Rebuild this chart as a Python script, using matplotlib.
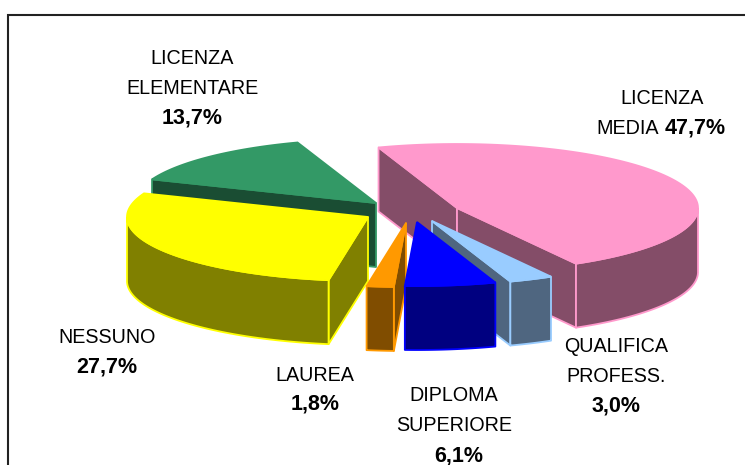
import numpy as np
import matplotlib
matplotlib.use("Agg")
import matplotlib.pyplot as plt
from matplotlib.patches import Polygon

categories = ["LICENZA MEDIA", "QUALIFICA PROFESS.", "DIPLOMA SUPERIORE", "LAUREA", "NESSUNO", "LICENZA ELEMENTARE"]
shares = [47.7, 3.0, 6.1, 1.8, 27.7, 13.7]
value_labels = ["47,7%", "3,0%", "6,1%", "1,8%", "27,7%", "13,7%"]

top_colors = ["#FF99CC", "#99CCFF", "#0000FF", "#FF9900", "#FFFF00", "#339966"]
side_colors = ["#844D68", "#4F6680", "#000080", "#804D00", "#808000", "#1A4D33"]
edge_colors = ["#FF99CC", "#99CCFF", "#0000FF", "#FF9900", "#FFFF00", "#339966"]

# layout (pixels of the reference), exploded apex of each slice
apex_x = [457, 432, 417, 406, 368, 376]
apex_y = [208, 221, 222, 223, 217, 203]
draw_order = [0, 5, 4, 1, 3, 2]
START_ANGLE = 109.0
WARP = 2.6  # near half of the pie is slightly stretched by the 3D view
RX, RY, DEPTH = 241.0, 64.0, 64.0

plt.rcParams["font.family"] = ["Liberation Sans", "DejaVu Sans"]
fig = plt.figure(figsize=(7.45, 4.65), dpi=100)
ax = fig.add_axes([0, 0, 1, 1])
ax.set_xlim(0, 745)
ax.set_ylim(465, 0)
ax.axis("off")

# frame (runs off the right and bottom of the picture)
ax.plot([7.5, 7.5, 745], [465, 15, 15], color="#222222", lw=1.5, solid_joinstyle="miter", zorder=1)

spans = np.array(shares) * 3.6
ends = START_ANGLE - np.cumsum(spans)
starts = ends + spans


def warp(a):
    return a + WARP * np.maximum(0.0, -np.sin(np.radians(a)))


def rim(cx, cy, a0, a1):
    t = np.radians(np.linspace(a0, a1, 120))
    return cx + RX * np.cos(t), cy - RY * np.sin(t)


z = 2
for i in draw_order:
    cx, cy = apex_x[i], apex_y[i]
    a0, a1 = warp(starts[i]), warp(ends[i])
    x, y = rim(cx, cy, a0, a1)
    face = dict(facecolor=side_colors[i], edgecolor=edge_colors[i], linewidth=1.3, joinstyle="round")

    # straight cut faces, only those turned toward the viewer
    if np.cos(np.radians(a0)) < 0:
        ax.add_patch(Polygon([(cx, cy), (x[0], y[0]), (x[0], y[0] + DEPTH), (cx, cy + DEPTH)], zorder=z, **face))
        z += 1
    if np.cos(np.radians(a1)) > 0:
        ax.add_patch(Polygon([(cx, cy), (x[-1], y[-1]), (x[-1], y[-1] + DEPTH), (cx, cy + DEPTH)], zorder=z, **face))
        z += 1

    # curved outer face: only the part on the near half
    near = np.sin(np.radians(np.linspace(a0, a1, 120))) < 0
    if near.any():
        xs, ys = x[near], y[near]
        pts = np.column_stack([np.r_[xs, xs[::-1]], np.r_[ys, ys[::-1] + DEPTH]])
        ax.add_patch(Polygon(pts, zorder=z, **face))
        z += 1

    # top face
    top = np.column_stack([np.r_[cx, x], np.r_[cy, y]])
    ax.add_patch(Polygon(top, facecolor=top_colors[i], edgecolor=edge_colors[i], linewidth=1.3, zorder=z))
    z += 1

FS, FB = 14.2, 15.5
txt = dict(ha="center", va="center", fontsize=FS, color="black", zorder=100)
bold = dict(txt, fontsize=FB, fontweight="bold")

ax.text(192, 59, "LICENZA", **txt)
ax.text(192, 88, "ELEMENTARE", **txt)
ax.text(192, 118, value_labels[5], **bold)

ax.text(662, 98, "LICENZA", **txt)
ax.text(628, 128, "MEDIA", **txt)
ax.text(695.5, 128, value_labels[0], **bold)

ax.text(616, 346, "QUALIFICA", **txt)
ax.text(616, 376, "PROFESS.", **txt)
ax.text(616, 406, value_labels[1], **bold)

ax.text(454, 395, "DIPLOMA", **txt)
ax.text(454, 425, "SUPERIORE", **txt)
ax.text(459, 456, value_labels[2], **bold)

ax.text(315, 375, "LAUREA", **txt)
ax.text(315, 404, value_labels[3], **bold)

ax.text(107, 337, "NESSUNO", **txt)
ax.text(107, 367, value_labels[4], **bold)

fig.savefig("out.png", dpi=100, facecolor="white")
